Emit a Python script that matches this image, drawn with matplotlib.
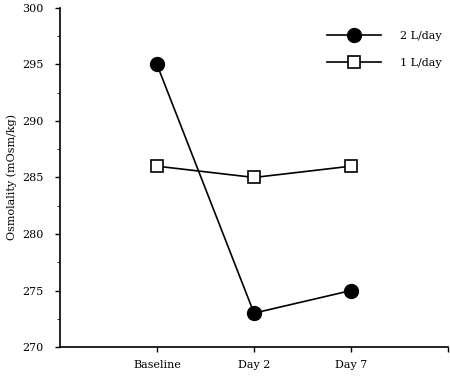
import matplotlib
matplotlib.use("Agg")
import matplotlib.pyplot as plt
from matplotlib.ticker import MultipleLocator

days = ["Baseline", "Day 2", "Day 7"]
two_l = [295, 273, 275]
one_l = [286, 285, 286]

plt.rcParams['font.family'] = ['DejaVu Serif']
fig = plt.figure(figsize=(4.5, 3.76), dpi=100)
ax = fig.add_axes([0.133, 0.077, 0.863, 0.902])

x = [1, 2, 3]
ax.plot(x, two_l, color='black', lw=1.2, marker='o', ms=10, mfc='black', mec='black', label='2 L/day')
ax.plot(x, one_l, color='black', lw=1.2, marker='s', ms=9, mfc='white', mec='black', mew=1.2, label='1 L/day')

ax.set_xlim(0, 4)
ax.set_ylim(270, 300)
ax.set_xticks([1, 2, 3, 4])
ax.set_xticklabels(days + [""])
ax.yaxis.set_major_locator(MultipleLocator(5))
ax.yaxis.set_minor_locator(MultipleLocator(2.5))
ax.tick_params(axis='both', labelsize=8, direction='out', width=1, length=3.5, pad=8)
ax.tick_params(axis='y', which='minor', length=2.5)
ax.tick_params(axis='x', pad=6)
for s in ['top', 'right']:
    ax.spines[s].set_visible(False)
for s in ['left', 'bottom']:
    ax.spines[s].set_linewidth(1.2)

ax.set_ylabel("Osmolality (mOsm/kg)", fontsize=8, labelpad=4)
ax.legend(loc='upper left', bbox_to_anchor=(327 / 450, 1 - 31 / 376), bbox_transform=fig.transFigure,
          frameon=False, fontsize=8, borderpad=0, borderaxespad=0,
          handlelength=4.9, handletextpad=1.7, labelspacing=1.5)

fig.savefig("out.png", dpi=100)
